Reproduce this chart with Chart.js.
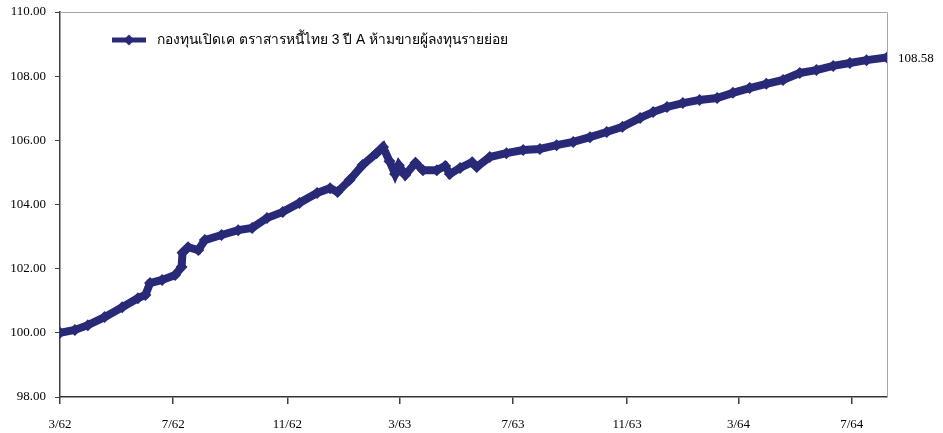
<!DOCTYPE html>
<html>
<head>
<meta charset="utf-8">
<script src="https://cdn.jsdelivr.net/npm/chart.js@4.4.1/dist/chart.umd.min.js"></script>
<style>
  html, body { margin: 0; padding: 0; background: #ffffff; }
  #wrap { position: relative; width: 943px; height: 433px; }
</style>
</head>
<body>
<div id="wrap"><canvas id="c" width="943" height="433"></canvas></div>
<script>
// ---- data ----
const seriesName = 'กองทุนเปิดเค ตราสารหนี้ไทย 3 ปี A ห้ามขายผู้ลงทุนรายย่อย';
const dates = [
  '2019-03-01','2019-03-17','2019-03-31','2019-04-18','2019-05-07','2019-05-24','2019-06-01','2019-06-06',
  '2019-06-19','2019-07-03','2019-07-10','2019-07-11','2019-07-17','2019-07-28','2019-08-04','2019-08-22',
  '2019-09-09','2019-09-24','2019-10-10','2019-10-27','2019-11-14','2019-12-03','2019-12-17','2019-12-25',
  '2020-01-07','2020-01-21','2020-02-05','2020-02-12','2020-02-19','2020-02-25','2020-02-29','2020-03-07',
  '2020-03-18','2020-03-26','2020-04-10','2020-04-19','2020-04-24','2020-05-05','2020-05-18','2020-05-23',
  '2020-06-06','2020-06-24','2020-07-12','2020-07-30','2020-08-17','2020-09-04','2020-09-22','2020-10-10',
  '2020-10-27','2020-11-15','2020-11-29','2020-12-14','2020-12-31','2021-01-18','2021-02-06','2021-02-23',
  '2021-03-13','2021-03-31','2021-04-18','2021-05-06','2021-05-24','2021-06-11','2021-06-29','2021-07-17',
  '2021-08-08'
];
const navValues = [
  100.00,100.09,100.24,100.49,100.80,101.08,101.18,101.55,
  101.65,101.80,102.05,102.50,102.67,102.58,102.89,103.05,
  103.20,103.27,103.58,103.77,104.05,104.36,104.51,104.39,
  104.76,105.23,105.60,105.79,105.35,104.95,105.22,104.92,
  105.30,105.07,105.07,105.20,104.95,105.14,105.32,105.17,
  105.48,105.60,105.70,105.73,105.85,105.95,106.10,106.26,
  106.42,106.70,106.88,107.04,107.16,107.26,107.32,107.48,
  107.63,107.76,107.88,108.10,108.19,108.32,108.41,108.50,
  108.58
];
const tickDates = ['2019-03-01','2019-07-01','2019-11-01','2020-03-01','2020-07-01','2020-11-01','2021-03-01','2021-07-01'];
const tickLabels = ['3/62','7/62','11/62','3/63','7/63','11/63','3/64','7/64'];
const yMin = 98, yMax = 110, yStep = 2;
const endLabel = '108.58';

// ---- helpers ----
const origin = Date.UTC(2019, 2, 1);
function dayOf(s) { const p = s.split('-').map(Number); return Math.round((Date.UTC(p[0], p[1]-1, p[2]) - origin) / 86400000); }
const points = dates.map((d, i) => ({ x: dayOf(d), y: navValues[i] }));
const tickDays = tickDates.map(dayOf);
const lineColor = '#282A78';

const framePlugin = {
  id: 'frame',
  afterDatasetsDraw(chart) {
    const { ctx, chartArea: a } = chart;
    ctx.save();
    ctx.strokeStyle = '#a6a6a6';
    ctx.lineWidth = 1;
    ctx.beginPath();
    ctx.moveTo(a.left, a.top + 0.5); ctx.lineTo(a.right + 0.5, a.top + 0.5); ctx.lineTo(a.right + 0.5, a.bottom);
    ctx.stroke();
    // legend
    const ly = 40, lx1 = 112, lx2 = 146;
    ctx.strokeStyle = lineColor; ctx.lineWidth = 5;
    ctx.beginPath(); ctx.moveTo(lx1, ly); ctx.lineTo(lx2, ly); ctx.stroke();
    ctx.fillStyle = lineColor;
    const cx = (lx1 + lx2) / 2, r = 5.5;
    ctx.beginPath(); ctx.moveTo(cx, ly - r); ctx.lineTo(cx + r, ly); ctx.lineTo(cx, ly + r); ctx.lineTo(cx - r, ly); ctx.closePath(); ctx.fill();
    ctx.fillStyle = '#000000';
    ctx.font = '13.8px "Liberation Sans", "Noto Sans", sans-serif';
    ctx.textBaseline = 'middle'; ctx.textAlign = 'left';
    ctx.fillText(seriesName, 157, ly);
    // end label
    const meta = chart.getDatasetMeta(0);
    const last = meta.data[meta.data.length - 1];
    ctx.font = '13px "Liberation Serif", "Times New Roman", serif';
    ctx.fillText(endLabel, last.x + 11, last.y + 1);
    ctx.restore();
  }
};

new Chart(document.getElementById('c'), {
  type: 'line',
  data: {
    datasets: [{
      label: seriesName,
      data: points,
      borderColor: lineColor,
      backgroundColor: lineColor,
      borderWidth: 8,
      pointStyle: 'rectRot',
      pointRadius: 6,
      pointBorderWidth: 0,
      pointBackgroundColor: lineColor,
      tension: 0
    }]
  },
  options: {
    responsive: false,
    animation: false,
    events: [],
    layout: { padding: { left: 0, right: 56, top: 12, bottom: 0 } },
    plugins: { legend: { display: false }, tooltip: { enabled: false } },
    scales: {
      x: {
        type: 'linear',
        min: 0,
        max: dayOf(dates[dates.length - 1]),
        afterBuildTicks(scale) { scale.ticks = tickDays.map(v => ({ value: v })); },
        afterFit(scale) { scale.height = 36; },
        ticks: {
          autoSkip: false, maxRotation: 0,
          padding: 13,
          color: '#000000',
          font: { family: '"Liberation Serif", "Times New Roman", serif', size: 13 },
          callback(v) { const i = tickDays.indexOf(v); return i >= 0 ? tickLabels[i] : ''; }
        },
        grid: { display: true, drawOnChartArea: false, drawTicks: true, tickLength: 7, color: '#404040', lineWidth: 1.5 },
        border: { display: true, color: '#333333', width: 1.5 }
      },
      y: {
        min: yMin, max: yMax,
        afterFit(scale) { scale.width = 60; scale.paddingTop = 0; scale.paddingBottom = 0; },
        ticks: {
          stepSize: yStep,
          padding: 9,
          color: '#000000',
          font: { family: '"Liberation Serif", "Times New Roman", serif', size: 13 },
          callback(v) { return v.toFixed(2); }
        },
        grid: { display: true, drawOnChartArea: false, drawTicks: true, tickLength: 5, color: '#404040', lineWidth: 1 },
        border: { display: true, color: '#404040', width: 1.5 }
      }
    }
  },
  plugins: [framePlugin]
});
</script>
</body>
</html>
